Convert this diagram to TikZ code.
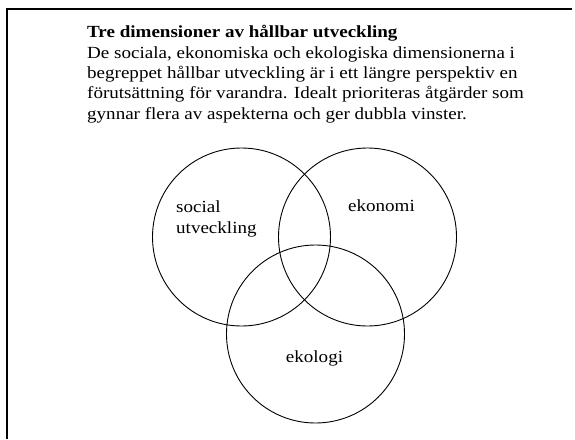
\documentclass[tikz,border=0pt]{standalone}
\usepackage{fontspec}
\setmainfont{Liberation Serif}
\usepackage{graphicx}
\usetikzlibrary{positioning}
% wide text, as in the reference
\newcommand{\widetext}[1]{\scalebox{1.12}[1]{\begin{tabular}{@{}l@{}}#1\end{tabular}}}
\tikzset{
    % Venn circles
    dim circle/.style={
        circle,
        draw=black,
        line width=0.9pt,
        minimum size=178pt,
        inner sep=0pt
    },
    dim label/.style={
        font=\fontsize{17}{20.3}\selectfont,
        inner sep=0pt
    }
}
\begin{document}
\begin{tikzpicture}[x=1pt, y=-1pt]
        \useasboundingbox (0,0) rectangle (575,439);
        % Frame
        \draw[line width=1.6pt] (7,439) -- (7,9) -- (572,9);

        % Heading and text
        \node[dim label, anchor=north west] (intro) at (87,23.5) {\widetext{%
            \textbf{Tre dimensioner av hållbar utveckling}\\
            De sociala, ekonomiska och ekologiska dimensionerna i\\
            begreppet hållbar utveckling är i ett längre perspektiv en\\
            förutsättning för varandra. Idealt prioriteras åtgärder som\\
            gynnar flera av aspekterna och ger dubbla vinster.}};

        % Circles
        \node[dim circle] (social) at (241.5,237) {};
        \node[dim circle] (ekonomi) at (367.5,237) {};
        \node[dim circle] (ekologi) at (315.5,334) {};

        % Labels
        \node[dim label, anchor=west] (sociallbl) at (176,219) {\widetext{social\\utveckling}};
        \node[dim label] (ekonomilbl) at (381.5,207) {\widetext{ekonomi}};
        \node[dim label] (ekologilbl) at (314.5,358) {\widetext{ekologi}};
    \end{tikzpicture}
\end{document}
